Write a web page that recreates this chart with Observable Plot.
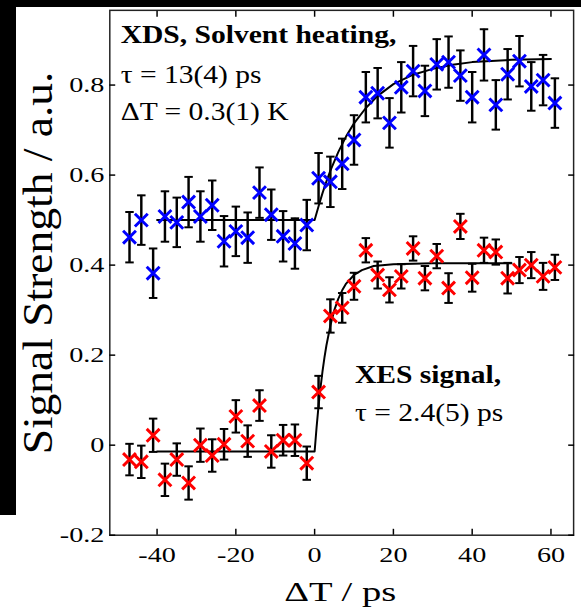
<!DOCTYPE html>
<html><head><meta charset="utf-8">
<script src="https://cdn.jsdelivr.net/npm/d3@7"></script>
<script src="https://cdn.jsdelivr.net/npm/@observablehq/plot@0.6"></script>
<style>
html,body{margin:0;padding:0;background:#fff;overflow:hidden;width:581px;height:616px;}
#wrap{position:relative;width:581px;height:616px;overflow:hidden;background:#fff;}
#wrap svg{position:absolute;left:0;top:0;}
.band{position:absolute;background:#000;z-index:2;}
</style></head><body>
<div id="wrap"><div class="band" style="left:0;top:0;width:581px;height:7px"></div><div class="band" style="left:0;top:0;width:16px;height:515px"></div></div>
<script>
// delay times (ps)
const delays = [-47,-44,-41,-38,-35,-32,-29,-26,-23,-20,-17,-14,-11,-8,-5,-2,1,4,7,10,13,16,19,22,25,28,31,34,37,40,43,46,49,52,55,58,61];
// XDS (solvent heating) signal, blue
const xdsSignal = [0.462,0.500,0.382,0.508,0.495,0.540,0.508,0.533,0.453,0.475,0.461,0.561,0.512,0.464,0.448,0.489,0.593,0.585,0.625,0.678,0.773,0.782,0.716,0.795,0.831,0.787,0.846,0.851,0.821,0.773,0.867,0.756,0.824,0.853,0.797,0.811,0.760];
const xdsError = [0.056,0.055,0.055,0.056,0.055,0.056,0.056,0.055,0.056,0.055,0.056,0.056,0.056,0.056,0.056,0.056,0.056,0.056,0.056,0.055,0.056,0.056,0.055,0.056,0.056,0.056,0.056,0.057,0.056,0.056,0.057,0.055,0.056,0.056,0.054,0.056,0.055];
// XES signal, red
const xesSignal = [-0.032,-0.037,0.022,-0.077,-0.032,-0.084,0.000,-0.023,0.002,0.064,0.009,0.088,-0.014,0.011,0.011,-0.040,0.118,0.287,0.305,0.353,0.433,0.378,0.345,0.375,0.437,0.371,0.420,0.349,0.486,0.372,0.433,0.429,0.371,0.389,0.400,0.375,0.395];
const xesError = [0.035,0.036,0.037,0.036,0.036,0.037,0.037,0.036,0.034,0.036,0.035,0.034,0.036,0.034,0.035,0.037,0.036,0.037,0.033,0.030,0.027,0.030,0.028,0.027,0.027,0.027,0.027,0.033,0.028,0.031,0.028,0.028,0.034,0.029,0.029,0.030,0.028];
// fit curves
const xdsFitDelay  = [-40,0,1,2,3,4,6,8,10,13,16,20,25,30,35,40,50,60];
const xdsFitSignal = [0.500,0.500,0.531,0.560,0.586,0.610,0.651,0.686,0.715,0.749,0.776,0.802,0.823,0.836,0.845,0.851,0.856,0.858];
const xesFitDelay  = [-40,0,0.5,1,1.5,2,2.5,3,4,5,6,7,8,10,12,15,20,30,50];
const xesFitSignal = [-0.014,-0.014,0.040,0.088,0.128,0.164,0.195,0.222,0.266,0.300,0.325,0.344,0.359,0.378,0.389,0.398,0.402,0.404,0.404];
// ticks
const xTicks = [-40,-20,0,20,40,60];
const xTickLabels = ["-40","-20","0","20","40","60"];
const yTicks = [-0.2,0,0.2,0.4,0.6,0.8];
const yTickLabels = ["-0.2","0","0.2","0.4","0.6","0.8"];
// texts
const xdsNotes = ["XDS, Solvent heating,","τ = 13(4) ps","ΔT = 0.3(1) K"];
const xesNotes = ["XES signal,","τ = 2.4(5) ps"];
const xTitle = "ΔT / ps";
const yTitle = "Signal Strength / a.u.";

const xds = delays.map((t,i)=>({t, v:xdsSignal[i], e:xdsError[i]}));
const xes = delays.map((t,i)=>({t, v:xesSignal[i], e:xesError[i]}));
const xdsFit = xdsFitDelay.map((t,i)=>({t, v:xdsFitSignal[i]}));
const xesFit = xesFitDelay.map((t,i)=>({t, v:xesFitSignal[i]}));

const cap = {draw(ctx, size){ const w = Math.sqrt(size/Math.PI); ctx.moveTo(-w,0); ctx.lineTo(w,0);} };
const serif = "Liberation Serif";

function errMarks(data){
  return [
    Plot.ruleX(data, {x:"t", y1:d=>d.v-d.e, y2:d=>d.v+d.e, stroke:"#000", strokeWidth:2.5}),
    Plot.dot(data, {x:"t", y:d=>d.v-d.e, symbol:cap, r:4.3, fill:"none", stroke:"#000", strokeWidth:2}),
    Plot.dot(data, {x:"t", y:d=>d.v+d.e, symbol:cap, r:4.3, fill:"none", stroke:"#000", strokeWidth:2})
  ];
}
const note = (s, dx, dy, bold) => Plot.text([s], {text:d=>d, frameAnchor:"top-left", dx, dy, textAnchor:"start", lineAnchor:"bottom", fontSize:25, fontFamily:serif, fontWeight: bold ? "bold" : "normal"});

const svg = Plot.plot({
  width:590, height:616,
  marginLeft:111, marginRight:8, marginTop:10, marginBottom:73,
  style:{fontFamily:serif, color:"#000", background:"#fff", overflow:"visible"},
  x:{domain:[-52,65.75], label:null},
  y:{domain:[-0.2,0.966], label:null},
  marks:[
    Plot.line(xdsFit, {x:"t", y:"v", stroke:"#000", strokeWidth:2}),
    Plot.line(xesFit, {x:"t", y:"v", stroke:"#000", strokeWidth:2}),
    ...errMarks(xds),
    ...errMarks(xes),
    Plot.dot(xds, {x:"t", y:"v", symbol:"times", r:6, stroke:"#0000ff", strokeWidth:3}),
    Plot.dot(xes, {x:"t", y:"v", symbol:"times", r:6, stroke:"#ff0000", strokeWidth:3}),
    Plot.frame({stroke:"#222", strokeWidth:1.5}),
    Plot.axisY(yTicks, {anchor:"left", tickSize:-6, tickPadding:11.5, strokeWidth:1.5, fontSize:22, fontFamily:serif, label:null, tickFormat:d=>yTickLabels[yTicks.indexOf(d)]}),
    Plot.axisY(yTicks, {anchor:"right", tickSize:-6, strokeWidth:1.5, label:null, tickFormat:()=>""}),
    Plot.axisX(xTicks, {anchor:"bottom", tickSize:-6, tickPadding:18, strokeWidth:1.5, fontSize:22, fontFamily:serif, label:null, tickFormat:d=>xTickLabels[xTicks.indexOf(d)]}),
    Plot.axisX(xTicks, {anchor:"top", tickSize:-6, strokeWidth:1.5, label:null, tickFormat:()=>""}),
    note(xdsNotes[0], 11, 33.5, true),
    note(xdsNotes[1], 11, 74, false),
    note(xdsNotes[2], 11, 111, false),
    note(xesNotes[0], 249, 378, true),
    note(xesNotes[1], 249, 417, false),
    Plot.text([xTitle], {text:d=>d, frameAnchor:"bottom", dx:-1.5, dy:67, lineAnchor:"bottom", fontSize:28, fontFamily:serif}),
    Plot.text([yTitle], {text:d=>d, frameAnchor:"left", dx:-72, dy:-10, rotate:-90, textAnchor:"middle", lineAnchor:"middle", fontSize:42, fontFamily:serif})
  ]
});

// horizontal glyph stretch as in the reference picture
const stretchOf = new Map();
xTickLabels.forEach(s=>stretchOf.set(s,1.3));
yTickLabels.forEach(s=>stretchOf.set(s,1.3));
[...xdsNotes, ...xesNotes].forEach(s=>stretchOf.set(s,1.2));
stretchOf.set(xTitle,1.4);
stretchOf.set(yTitle,1.1);
svg.querySelectorAll("text").forEach(t=>{
  const s = stretchOf.get(t.textContent);
  if (!s) return;
  const tr = t.getAttribute("transform");
  if (tr) t.setAttribute("transform", tr + ` scale(${s},1)`);
  else {
    const x = parseFloat(t.getAttribute("x"))||0, y = parseFloat(t.getAttribute("y"))||0;
    t.setAttribute("transform", `translate(${x},${y}) scale(${s},1) translate(${-x},${-y})`);
  }
});

document.getElementById("wrap").appendChild(svg);
</script>
</body></html>
